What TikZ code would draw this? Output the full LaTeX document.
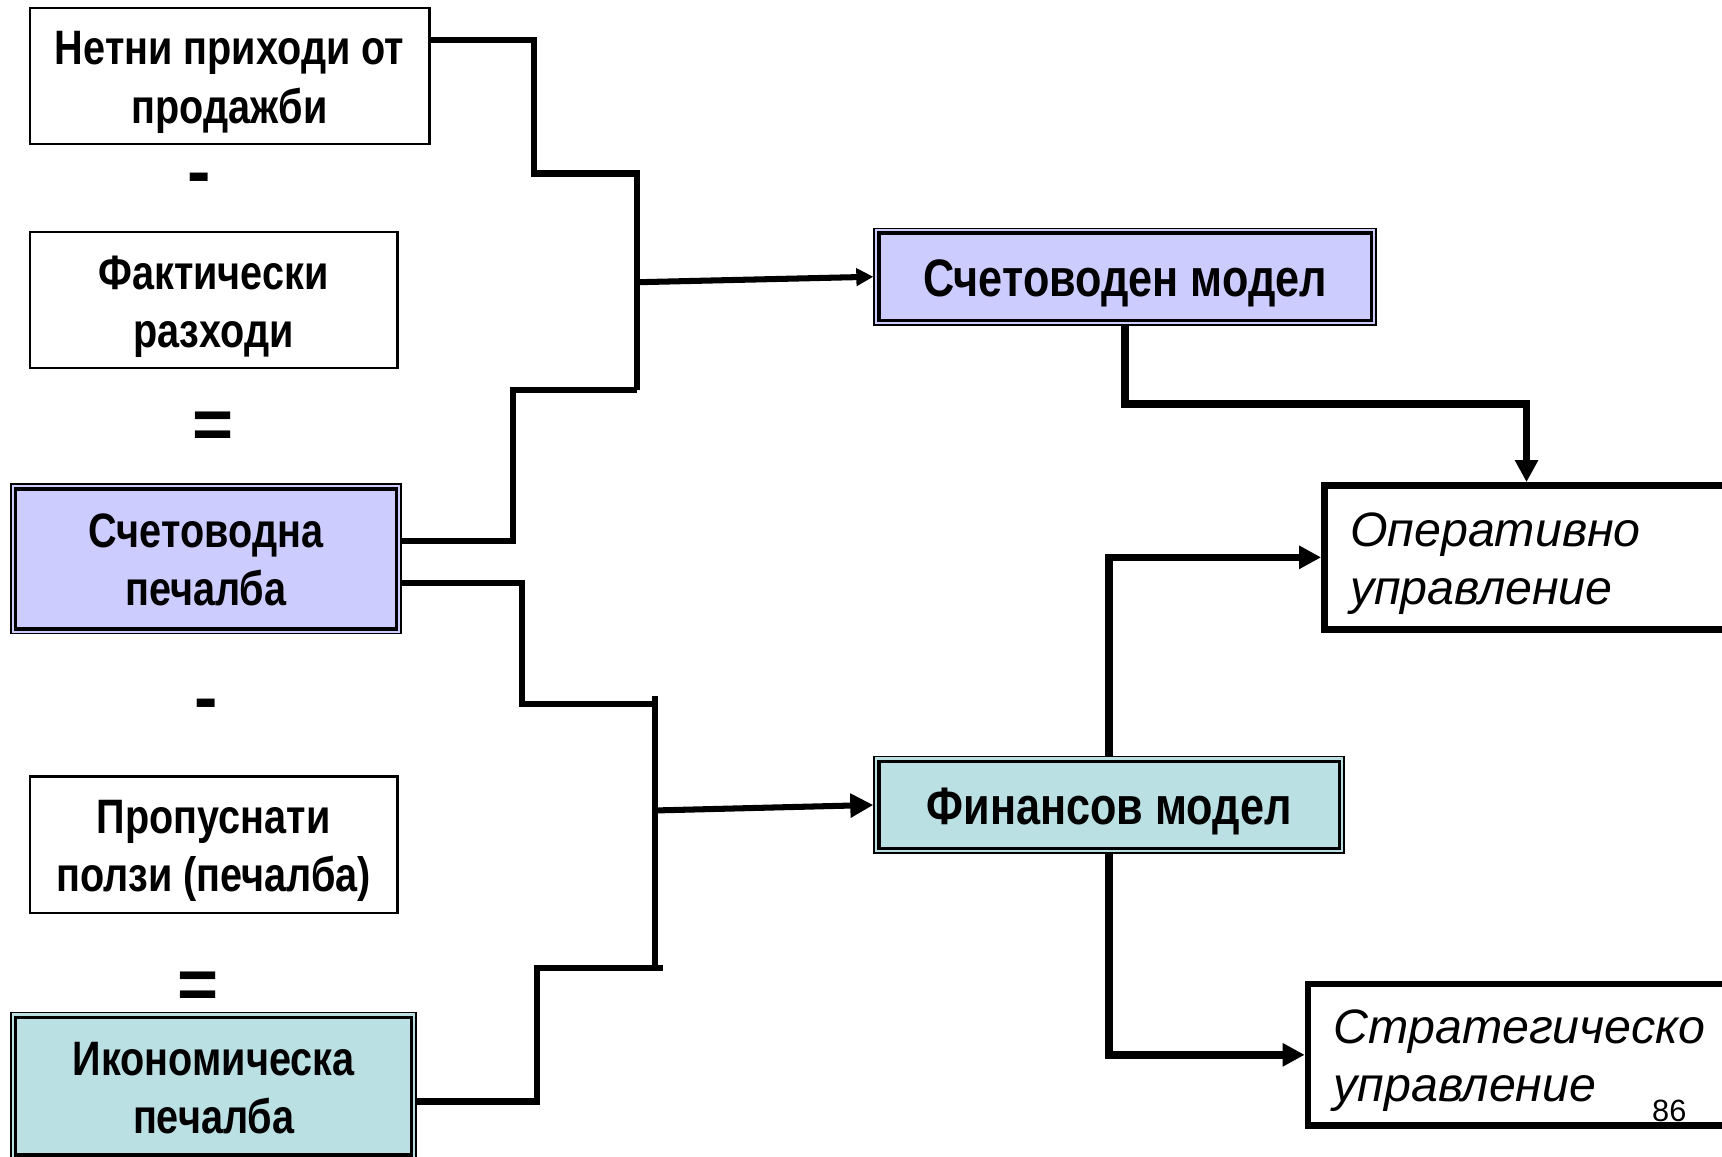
\documentclass[tikz,border=0pt]{standalone}
\usepackage{fontspec}
\setmainfont{Liberation Sans}
\newfontfamily\narrowfont[FakeStretch=0.82]{Liberation Sans}
\usetikzlibrary{arrows.meta}
\definecolor{lav}{HTML}{CCCCFF}
\definecolor{aqua}{HTML}{BAE0E3}

\begin{document}
\begin{tikzpicture}[x=0.5pt,y=-0.5pt,
  plainbox/.style={draw, line width=1pt, fill=white, inner sep=0pt},
  dblbox/.style={draw, line width=0.75pt, fill=#1, inner sep=0pt},
  innerline/.style={draw, line width=1.5pt},
  mgmtbox/.style={draw, line width=3pt, fill=white, inner sep=0pt},
  boxtext/.style={align=center, inner sep=0pt,
    font=\narrowfont\bfseries\fontsize{22}{26.5}\selectfont},
  modeltext/.style={inner sep=0pt, font=\narrowfont\bfseries\fontsize{24}{28}\selectfont},
  mgmttext/.style={align=left, inner sep=0pt, anchor=west,
    font=\fontsize{22}{26.5}\selectfont\itshape},
  opsign/.style={font=\bfseries\fontsize{32}{34}\selectfont, inner sep=0pt},
  conn/.style={line width=2.75pt},
  thickconn/.style={line width=3.5pt},
  smallarr/.style={conn, -{Triangle[length=7.75pt,width=7.75pt]}},
  midarr/.style={conn, -{Triangle[length=10.5pt,width=10.5pt]}},
  bigarr/.style={thickconn, -{Triangle[length=10pt,width=10pt]}}
]
\useasboundingbox (0,0) rectangle (1568,1053);

% left column: the profit calculation
\node[plainbox, minimum width=182pt, minimum height=62pt] (rev) at (209,69) {};
\node[boxtext] (revtxt) at ([yshift=-3pt]rev.center) {Нетни приходи от\\продажби};
\node[opsign] (minusA) at (181,168) {-};
\node[plainbox, minimum width=167.5pt, minimum height=62pt] (cost) at (194.5,273) {};
\node[boxtext] (costtxt) at ([yshift=-3pt]cost.center) {Фактически\\разходи};
\node[opsign] (eqA) at (194,392) {=};
\node[dblbox=lav, minimum width=177.5pt, minimum height=68pt] (accp) at (187.5,509) {};
\draw[innerline] ([shift={(5,5)}]accp.north west) rectangle ([shift={(-5,-5)}]accp.south east);
\node[boxtext] (accptxt) at ([yshift=-0.5pt]accp.center) {Счетоводна\\печалба};
\node[opsign] (minusB) at (188,647) {-};
\node[plainbox, minimum width=167.5pt, minimum height=62pt] (opp) at (194.5,769) {};
\node[boxtext] (opptxt) at ([yshift=-3pt]opp.center) {Пропуснати\\ползи (печалба)};
\node[opsign] (eqB) at (180,902) {=};
\node[dblbox=aqua, minimum width=184.5pt, minimum height=67pt] (ecop) at (194.5,989) {};
\draw[innerline] ([shift={(5,5)}]ecop.north west) rectangle ([shift={(-5,-5)}]ecop.south east);
\node[boxtext] (ecoptxt) at ([yshift=-1pt]ecop.center) {Икономическа\\печалба};

% middle column: the two models
\node[dblbox=lav, minimum width=228.5pt, minimum height=44pt] (accm) at (1024.5,252) {};
\draw[innerline] ([shift={(5,5)}]accm.north west) rectangle ([shift={(-5,-5)}]accm.south east);
\node[modeltext] (accmtxt) at ([yshift=-3pt]accm.center) {Счетоводен модел};
\node[dblbox=aqua, minimum width=214pt, minimum height=44pt] (finm) at (1010,733) {};
\draw[innerline] ([shift={(5,5)}]finm.north west) rectangle ([shift={(-5,-5)}]finm.south east);
\node[modeltext] (finmtxt) at ([yshift=-3pt]finm.center) {Финансов модел};

% right column: management levels
\node[mgmtbox, minimum width=189.5pt, minimum height=65.5pt] (oper) at (1395.5,507.5) {};
\node[mgmttext] (opertxt) at ([xshift=13pt,yshift=-3pt]oper.west) {Оперативно\\управление};
\node[mgmtbox, minimum width=197pt, minimum height=64.5pt] (strat) at (1388,960.5) {};
\node[mgmttext] (strattxt) at ([xshift=13pt,yshift=-2.5pt]strat.west) {Стратегическо\\управление};
\node[font=\fontsize{14}{16}\selectfont, inner sep=0pt] (pg) at (1520,1012) {86};

% bracket feeding the accounting model
\coordinate (barAtop) at (580,155);
\coordinate (barAbot) at (580,355);
\coordinate (barAmid) at (580,257);
\draw[conn] (rev.east |- 0,36) -| (486,158) -- (barAtop |- 0,158);
\draw[conn] (barAtop) -- (barAbot);
\draw[conn] (accp.east |- 0,493) -| (467,355) -- (barAbot);
\draw[smallarr] (barAmid) -- (accm.west);

% bracket feeding the financial model
\coordinate (barBtop) at (596,634);
\coordinate (barBbot) at (596,881);
\coordinate (barBmid) at (596,738);
\draw[conn] (accp.east |- 0,531) -| (475,641) -- (barBtop |- 0,641);
\draw[conn] (barBtop) -- (barBbot);
\draw[conn] (ecop.east |- 0,1003) -| (489,881) -- (604,881);
\draw[midarr] (barBmid) -- (finm.west);

% models to management levels
\coordinate (opin) at (1390,368);
\draw[bigarr] (accm.south) |- (opin) -- (opin |- oper.north);
\draw[bigarr] (finm.north) |- (oper.west);
\draw[bigarr] (finm.south) |- (strat.west);
\end{tikzpicture}
\end{document}
